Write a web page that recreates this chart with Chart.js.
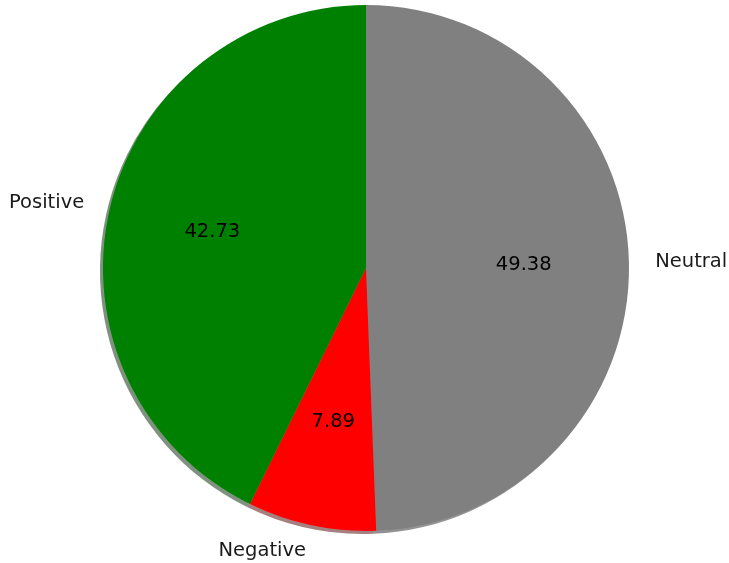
<!DOCTYPE html>
<html>
<head>
<meta charset="utf-8">
<script src="https://cdn.jsdelivr.net/npm/chart.js@4"></script>
<style>
  html, body { margin: 0; padding: 0; background: #fff; }
  #wrap { width: 729px; height: 563px; }
</style>
</head>
<body>
<div id="wrap"><canvas id="pie"></canvas></div>
<script>
// pie goes counterclockwise from the top in the original, so list it clockwise here
const labels = ['Neutral', 'Negative', 'Positive'];
const values = [49.38, 7.89, 42.73];
const colors = ['#808080', '#ff0000', '#008000'];
const shadows = ['rgba(38,38,38,0.5)', 'rgba(77,0,0,0.5)', 'rgba(0,38,0,0.5)'];

// matplotlib-ish shadow under each wedge
const shadowPlugin = {
    id: 'shadow',
    beforeDatasetsDraw(chart) {
        const ctx = chart.ctx;
        const arcs = chart.getDatasetMeta(0).data;
        ctx.save();
        arcs.forEach((arc, i) => {
            ctx.beginPath();
            ctx.moveTo(arc.x - 3, arc.y + 3);
            ctx.arc(arc.x - 3, arc.y + 3, arc.outerRadius, arc.startAngle, arc.endAngle);
            ctx.closePath();
            ctx.fillStyle = shadows[i];
            ctx.fill();
        });
        ctx.restore();
    }
};

const textPlugin = {
    id: 'pieText',
    afterDatasetsDraw(chart) {
        const ctx = chart.ctx;
        const arcs = chart.getDatasetMeta(0).data;
        ctx.save();
        ctx.font = '19.5px "DejaVu Sans"';
        arcs.forEach((arc, i) => {
            const mid = (arc.startAngle + arc.endAngle) / 2;
            const r = arc.outerRadius;
            // value inside
            ctx.fillStyle = '#000';
            ctx.textAlign = 'center';
            ctx.textBaseline = 'middle';
            ctx.fillText(values[i].toFixed(2), arc.x + Math.cos(mid) * r * 0.6, arc.y + Math.sin(mid) * r * 0.6);
            // label outside
            const lx = arc.x + Math.cos(mid) * r * 1.1;
            const ly = arc.y + Math.sin(mid) * r * 1.1;
            ctx.textAlign = Math.cos(mid) >= 0 ? 'left' : 'right';
            ctx.fillStyle = '#1a1a1a';
            ctx.fillText(labels[i], lx, ly);
        });
        ctx.restore();
    }
};

new Chart(document.getElementById('pie'), {
    type: 'pie',
    data: {
        labels: labels,
        datasets: [{
            data: values,
            backgroundColor: colors,
            borderWidth: 0
        }]
    },
    options: {
        responsive: true,
        maintainAspectRatio: false,
        animation: false,
        layout: { padding: { left: 103, right: 100, top: 5, bottom: 32 } },
        plugins: {
            legend: { display: false },
            tooltip: { enabled: false }
        }
    },
    plugins: [shadowPlugin, textPlugin]
});
</script>
</body>
</html>
